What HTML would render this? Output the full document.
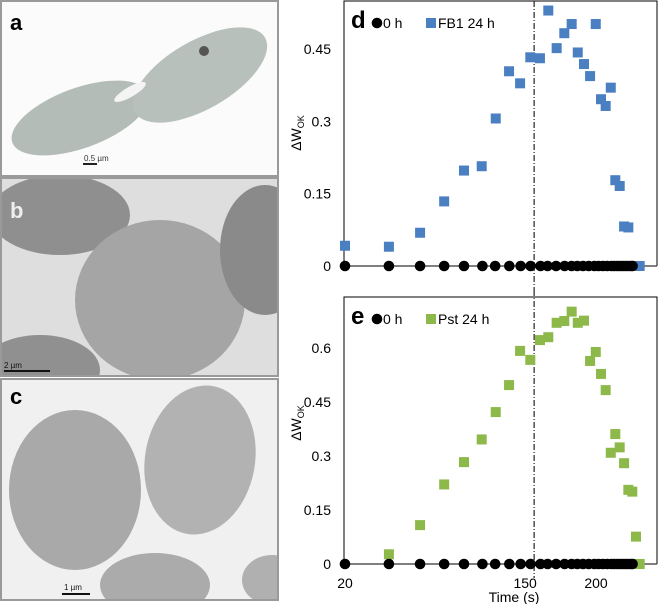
<!DOCTYPE html>
<html><head><meta charset="utf-8"><style>
html,body{margin:0;padding:0;background:#fff}
svg{display:block;font-family:"Liberation Sans",sans-serif}
</style></head><body>
<svg id="fig" width="660" height="604" viewBox="0 0 660 604">
 <defs>
  <clipPath id="ca"><rect x="1" y="1" width="277" height="175"/></clipPath>
  <clipPath id="cb"><rect x="1" y="178" width="277" height="198"/></clipPath>
  <clipPath id="cc"><rect x="1" y="379" width="277" height="221"/></clipPath>
 </defs>
 <g>
  <rect x="1" y="1" width="277" height="175" fill="#fbfbfb"/>
  <g clip-path="url(#ca)">
  <ellipse cx="80" cy="118" rx="72" ry="30" transform="rotate(-20 80 118)" fill="#b4bcb8"/>
  <ellipse cx="200" cy="75" rx="75" ry="34" transform="rotate(-30 200 75)" fill="#b8c0bc"/>
  <ellipse cx="130" cy="92" rx="18" ry="5" transform="rotate(-30 130 92)" fill="#f4f4f4"/>
  <circle cx="204" cy="51" r="5" fill="#555"/>
  </g>
  <rect x="1" y="1" width="277" height="175" fill="none" stroke="#9a9a9a" stroke-width="2"/>
  <text x="10" y="30" font-size="22" font-weight="bold">a</text>
  <text x="84" y="161" font-size="8" fill="#333">0.5 µm</text>
  <rect x="83" y="163" width="14" height="2" fill="#222"/>
 </g>
 <g>
  <rect x="1" y="178" width="277" height="198" fill="#dedede"/>
  <g clip-path="url(#cb)">
  <ellipse cx="60" cy="215" rx="70" ry="40" fill="#8f8f8f"/>
  <ellipse cx="160" cy="300" rx="85" ry="80" fill="#a5a5a5"/>
  <ellipse cx="265" cy="250" rx="45" ry="65" fill="#8a8a8a"/>
  <ellipse cx="40" cy="370" rx="60" ry="35" fill="#909090"/>
  </g>
  <rect x="1" y="178" width="277" height="198" fill="none" stroke="#9a9a9a" stroke-width="2"/>
  <text x="10" y="218" font-size="22" font-weight="bold" fill="#eee">b</text>
  <text x="4" y="368" font-size="8" fill="#111">2 µm</text>
  <rect x="4" y="370" width="46" height="2" fill="#111"/>
 </g>
 <g>
  <rect x="1" y="379" width="277" height="221" fill="#f0f0f0"/>
  <g clip-path="url(#cc)">
  <ellipse cx="75" cy="490" rx="66" ry="80" fill="#a9a9a9"/>
  <ellipse cx="200" cy="460" rx="55" ry="75" transform="rotate(10 200 460)" fill="#b2b2b2"/>
  <ellipse cx="155" cy="585" rx="55" ry="32" fill="#ababab"/>
  <ellipse cx="272" cy="580" rx="30" ry="25" fill="#b0b0b0"/>
  </g>
  <rect x="1" y="379" width="277" height="221" fill="none" stroke="#9a9a9a" stroke-width="2"/>
  <text x="10" y="404" font-size="22" font-weight="bold">c</text>
  <text x="64" y="590" font-size="8" fill="#111">1 µm</text>
  <rect x="62" y="593" width="28" height="2" fill="#111"/>
 </g>
 <g id="charts"></g>
</svg>
<script>
const xTicks = [20, 150, 200];
const yTicksD = [0, 0.15, 0.3, 0.45];
const yTicksE = [0, 0.15, 0.3, 0.45, 0.6];
const zeroTimes = [20,51,73,90,104,117,126,136,144,151,158,163,169,175,180,184,188,192,196,199,202,205,208,210,212,214,216,218,220,222,223];
const zeroVals = zeroTimes.map(() => 0);
const fbTimes = [20,51,73,90,104,116.5,126.4,135.8,143.6,150.8,157.6,163.5,169.4,174.8,180,184.3,188.7,193,197,200.7,204,207.6,210.8,213.9,217,220,228];
const fbVals = [0.042,0.040,0.069,0.134,0.198,0.207,0.306,0.404,0.379,0.433,0.431,0.530,0.452,0.483,0.502,0.443,0.419,0.394,0.502,0.346,0.332,0.370,0.178,0.166,0.082,0.080,0];
const pstTimes = [51,73,90,104,116.5,126.4,135.8,143.6,150.8,157.6,163.5,169.4,174.8,180,184.3,188.7,193,197,200.7,204,207.6,210.8,213.9,217,220,222.8,225.4,228];
const pstVals = [0.027,0.108,0.221,0.283,0.346,0.422,0.497,0.592,0.567,0.622,0.630,0.670,0.675,0.701,0.670,0.676,0.564,0.589,0.528,0.483,0.309,0.361,0.324,0.280,0.206,0.201,0.076,0];
const markerTime = 153.5;

const NS = 'http://www.w3.org/2000/svg';
const root = document.getElementById('charts');
function xs(t){ return 345 + (t - 20) * 1.4167; }
function mk(tag, attrs, parent){ const e = document.createElementNS(NS, tag); for (const k in attrs) e.setAttribute(k, attrs[k]); parent.appendChild(e); return e; }

function panel(cfg){
  const g = mk('g', {}, root);
  
  
  const ys = v => cfg.y0 - v * cfg.k;
  const frame = mk('path', {d:`M344,${cfg.y0} V${cfg.top} H657 V${cfg.y0}`, fill:'none', stroke:'#000', 'stroke-width':1}, g);
  
  
  const ax = mk('line', {x1:344, x2:657, y1:cfg.y0, y2:cfg.y0, stroke:'#555', 'stroke-width':1.5}, g);
  
  
  cfg.yTicks.forEach(v => {
    const t = mk('text', {x:331, y:ys(v)+5, 'font-size':14, 'text-anchor':'end'}, g);
    t.textContent = v === 0 ? '0' : String(v);
    
    
  });
  const yt = mk('text', {x:0, y:0, 'font-size':14, transform:`translate(301 ${cfg.ylabY}) rotate(-90)`, 'text-anchor':'middle'}, g);
  yt.innerHTML = 'ΔW<tspan font-size="9" dy="3">OK</tspan>';
  
  
  const vl = mk('line', {x1:xs(markerTime), x2:xs(markerTime), y1:cfg.vTop, y2:cfg.vBot, stroke:'#222', 'stroke-width':1.2, 'stroke-dasharray':'6 2 1 2'}, g);
  
  
  cfg.times.forEach((t, i) => {
    const r = mk('rect', {x:xs(t)-5, y:ys(cfg.vals[i])-5, width:10, height:10, fill:cfg.color}, g);
    
    
  });
  zeroTimes.forEach((t, i) => {
    const c = mk('circle', {cx:xs(t), cy:ys(zeroVals[i]), r:5.3, fill:'#000'}, g);
    
    
  });
  const lab = mk('text', {x:351, y:cfg.top+27, 'font-size':24, 'font-weight':'bold'}, g);
  lab.textContent = cfg.letter;
  
  
  const lc = mk('circle', {cx:377, cy:cfg.top+22, r:5.3, fill:'#000'}, g);
  
  
  const l1 = mk('text', {x:383, y:cfg.top+27, 'font-size':14}, g);
  l1.textContent = '0 h';
  
  
  const lr = mk('rect', {x:426, y:cfg.top+17, width:10, height:10, fill:cfg.color}, g);
  
  
  const l2 = mk('text', {x:438, y:cfg.top+27, 'font-size':14}, g);
  l2.textContent = cfg.legend;
  
  
  if (cfg.xlabels) {
    xTicks.forEach(t => {
      const tx = mk('text', {x:xs(t) + (t === 20 ? 0 : -4), y:588, 'font-size':14, 'text-anchor':'middle'}, g);
      tx.textContent = String(t);
      
      
    });
    const xt = mk('text', {x:514, y:602, 'font-size':14, 'text-anchor':'middle'}, g);
    xt.textContent = 'Time (s)';
    
    
  }
}
panel({name:'chart-d', letter:'d', legend:'FB1 24 h', color:'#4a7fc1', times:fbTimes, vals:fbVals, yTicks:yTicksD, y0:266, k:482, top:1, ylabY:133, vTop:1, vBot:290, xlabels:false});
panel({name:'chart-e', letter:'e', legend:'Pst 24 h', color:'#8db84a', times:pstTimes, vals:pstVals, yTicks:yTicksE, y0:564, k:360, top:297, ylabY:423, vTop:290, vBot:578, xlabels:true});
</script>
</body></html>
